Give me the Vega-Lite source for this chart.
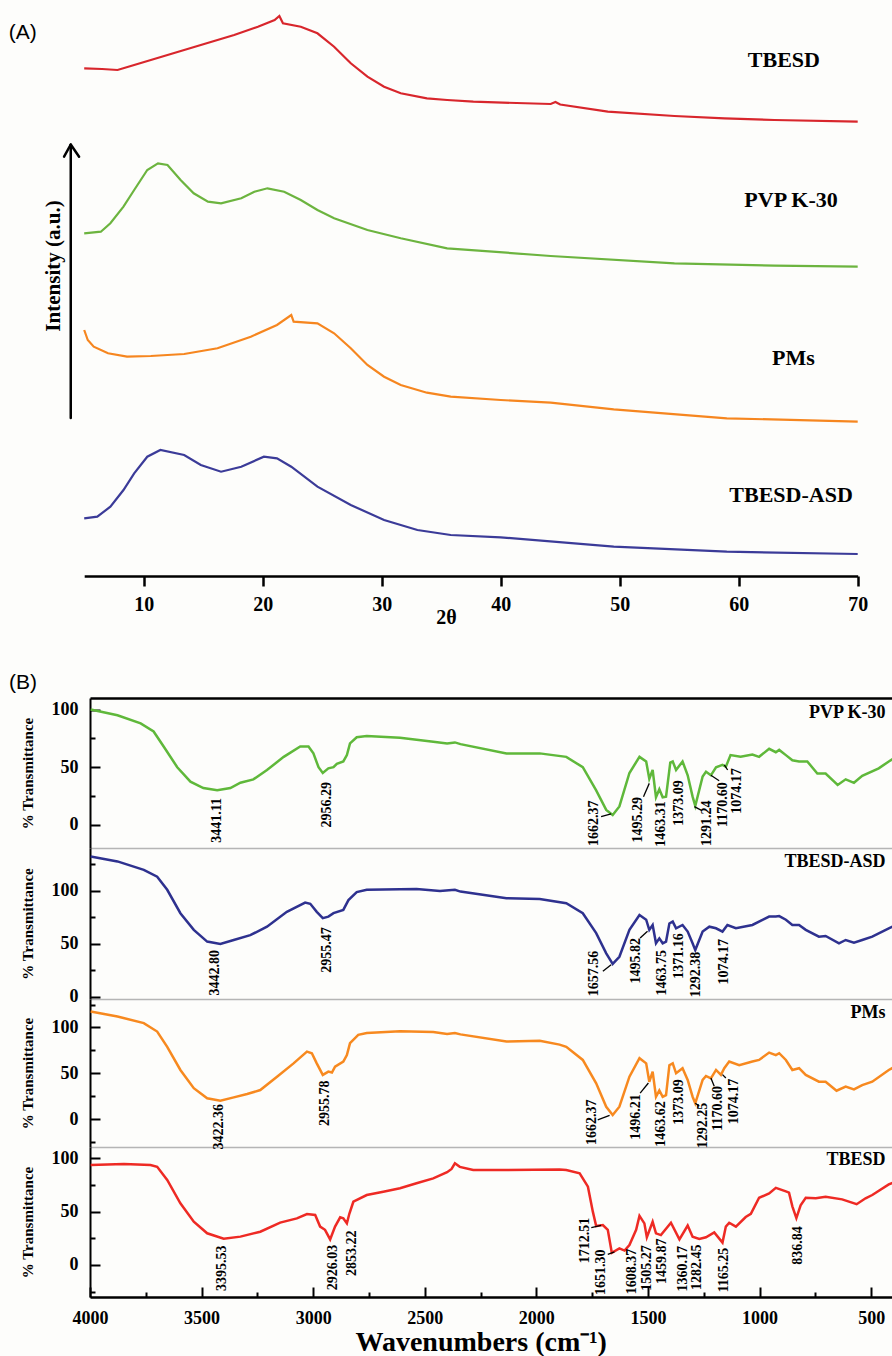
{
"$schema": "https://vega.github.io/schema/vega-lite/v6.json",
"background": "#fdfdfb",
"padding": {"left": 8, "top": 10, "right": 0, "bottom": 0},
"bounds": "flush",
"spacing": 122,
"config": {
  "view": {"stroke": null},
  "axis": {"labelFont": "Liberation Serif", "labelFontWeight": "bold", "labelColor": "black", "titleFont": "Liberation Serif", "titleFontWeight": "bold", "titleColor": "black", "domainColor": "black", "tickColor": "black", "grid": false, "labelOverlap": false},
  "text": {"font": "Liberation Serif", "fontWeight": "bold", "color": "black"}
},
"datasets": {
  "xrd": [
    {"s":"TBESD","x":5,"y":507.7},{"s":"TBESD","x":6.5,"y":507},{"s":"TBESD","x":7.8,"y":506},{"s":"TBESD","x":9.2,"y":511},{"s":"TBESD","x":12,"y":521},{"s":"TBESD","x":14.8,"y":531},{"s":"TBESD","x":17.6,"y":541},{"s":"TBESD","x":19.6,"y":549.3},{"s":"TBESD","x":21,"y":556},{"s":"TBESD","x":21.4,"y":560},{"s":"TBESD","x":21.7,"y":552.7},{"s":"TBESD","x":23.2,"y":549.3},{"s":"TBESD","x":24.6,"y":542.7},{"s":"TBESD","x":26,"y":529.3},{"s":"TBESD","x":27.4,"y":512.7},{"s":"TBESD","x":28.8,"y":499.3},{"s":"TBESD","x":30.2,"y":489.3},{"s":"TBESD","x":31.6,"y":482.7},{"s":"TBESD","x":33.8,"y":477.7},{"s":"TBESD","x":35.5,"y":476},{"s":"TBESD","x":37.7,"y":474.3},{"s":"TBESD","x":44.2,"y":472},{"s":"TBESD","x":44.6,"y":474},{"s":"TBESD","x":45,"y":471.5},{"s":"TBESD","x":49,"y":464.3},{"s":"TBESD","x":54.6,"y":460},{"s":"TBESD","x":58.8,"y":457.7},{"s":"TBESD","x":63,"y":456},{"s":"TBESD","x":70,"y":454.3},
    {"s":"PVP K-30","x":5,"y":342.7},{"s":"PVP K-30","x":6.4,"y":344.3},{"s":"PVP K-30","x":7.2,"y":352.7},{"s":"PVP K-30","x":8.3,"y":369.3},{"s":"PVP K-30","x":9.2,"y":386},{"s":"PVP K-30","x":10.3,"y":406},{"s":"PVP K-30","x":11.2,"y":412.7},{"s":"PVP K-30","x":12,"y":411},{"s":"PVP K-30","x":13.1,"y":396},{"s":"PVP K-30","x":14.2,"y":382.7},{"s":"PVP K-30","x":15.4,"y":374.3},{"s":"PVP K-30","x":16.5,"y":372.7},{"s":"PVP K-30","x":18.2,"y":377.7},{"s":"PVP K-30","x":19.3,"y":384.3},{"s":"PVP K-30","x":20.4,"y":387.7},{"s":"PVP K-30","x":21.8,"y":384.3},{"s":"PVP K-30","x":23.2,"y":376},{"s":"PVP K-30","x":24.6,"y":366},{"s":"PVP K-30","x":26,"y":357.7},{"s":"PVP K-30","x":28.8,"y":346},{"s":"PVP K-30","x":31.6,"y":337.7},{"s":"PVP K-30","x":35.5,"y":327.7},{"s":"PVP K-30","x":44.2,"y":320},{"s":"PVP K-30","x":54.6,"y":312.7},{"s":"PVP K-30","x":63,"y":310.3},{"s":"PVP K-30","x":70,"y":309.3},
    {"s":"PMs","x":5,"y":246},{"s":"PMs","x":5.3,"y":236},{"s":"PMs","x":5.8,"y":229.3},{"s":"PMs","x":7,"y":222.7},{"s":"PMs","x":8.6,"y":219.3},{"s":"PMs","x":10.6,"y":220},{"s":"PMs","x":13.4,"y":222},{"s":"PMs","x":16.2,"y":227.7},{"s":"PMs","x":19,"y":239.3},{"s":"PMs","x":21.2,"y":251},{"s":"PMs","x":22.4,"y":261},{"s":"PMs","x":22.6,"y":254.3},{"s":"PMs","x":24.6,"y":252.7},{"s":"PMs","x":26,"y":242.7},{"s":"PMs","x":27.4,"y":227.7},{"s":"PMs","x":28.8,"y":211},{"s":"PMs","x":30.2,"y":199.3},{"s":"PMs","x":31.6,"y":191},{"s":"PMs","x":33.8,"y":183.3},{"s":"PMs","x":35.8,"y":179.3},{"s":"PMs","x":40,"y":176},{"s":"PMs","x":44.2,"y":173.3},{"s":"PMs","x":49.5,"y":166.7},{"s":"PMs","x":59,"y":157.7},{"s":"PMs","x":70,"y":154.3},
    {"s":"TBESD-ASD","x":5,"y":57.7},{"s":"TBESD-ASD","x":6.1,"y":59.3},{"s":"TBESD-ASD","x":7.2,"y":69.3},{"s":"TBESD-ASD","x":8.3,"y":86},{"s":"TBESD-ASD","x":9.2,"y":102.7},{"s":"TBESD-ASD","x":10.3,"y":119.3},{"s":"TBESD-ASD","x":11.4,"y":126},{"s":"TBESD-ASD","x":13.4,"y":121},{"s":"TBESD-ASD","x":14.8,"y":111},{"s":"TBESD-ASD","x":16.5,"y":104.3},{"s":"TBESD-ASD","x":18.2,"y":109.3},{"s":"TBESD-ASD","x":20.1,"y":119.3},{"s":"TBESD-ASD","x":21.2,"y":117.7},{"s":"TBESD-ASD","x":22.4,"y":109.3},{"s":"TBESD-ASD","x":24.6,"y":89.3},{"s":"TBESD-ASD","x":27.4,"y":71},{"s":"TBESD-ASD","x":30.2,"y":56},{"s":"TBESD-ASD","x":33,"y":46},{"s":"TBESD-ASD","x":35.8,"y":41},{"s":"TBESD-ASD","x":40,"y":38.7},{"s":"TBESD-ASD","x":49.5,"y":29.3},{"s":"TBESD-ASD","x":59,"y":24.3},{"s":"TBESD-ASD","x":70,"y":22}
  ],
  "xrdLabels": [
    {"x":63.8,"y":516,"label":"TBESD"},{"x":64.4,"y":376,"label":"PVP K-30"},{"x":64.6,"y":218,"label":"PMs"},{"x":64.4,"y":81,"label":"TBESD-ASD"}
  ],
  "arrow": [
    {"x1":3.87,"y1":158,"x2":3.87,"y2":431},{"x1":3.31,"y1":419.3,"x2":3.87,"y2":431.5},{"x1":4.57,"y1":419.3,"x2":3.87,"y2":431.5}
  ],
  "pvp": [
    {"wn":3997,"t":100},{"wn":3877,"t":95},{"wn":3773,"t":88},{"wn":3715,"t":81},{"wn":3670,"t":68},{"wn":3609,"t":50},{"wn":3550,"t":37.5},{"wn":3492,"t":32},{"wn":3430,"t":30},{"wn":3371,"t":32},{"wn":3326,"t":36.6},{"wn":3268,"t":39.5},{"wn":3207,"t":47.6},{"wn":3132,"t":59},{"wn":3058,"t":68},{"wn":3021,"t":68},{"wn":2999,"t":62},{"wn":2976,"t":50},{"wn":2957,"t":45},{"wn":2932,"t":49},{"wn":2909,"t":50},{"wn":2894,"t":53},{"wn":2865,"t":55},{"wn":2849,"t":60.5},{"wn":2835,"t":70.7},{"wn":2805,"t":76},{"wn":2760,"t":77},{"wn":2611,"t":75.5},{"wn":2462,"t":72},{"wn":2400,"t":70.5},{"wn":2365,"t":71.5},{"wn":2340,"t":70},{"wn":2134,"t":62},{"wn":1985,"t":62},{"wn":1866,"t":59},{"wn":1792,"t":50},{"wn":1732,"t":30},{"wn":1687,"t":13},{"wn":1658,"t":8.6},{"wn":1628,"t":16},{"wn":1583,"t":45},{"wn":1538,"t":59},{"wn":1508,"t":55},{"wn":1494,"t":40},{"wn":1479,"t":47.6},{"wn":1464,"t":24},{"wn":1449,"t":31},{"wn":1434,"t":24},{"wn":1419,"t":24.5},{"wn":1400,"t":54},{"wn":1389,"t":55},{"wn":1374,"t":47.6},{"wn":1345,"t":55},{"wn":1322,"t":43},{"wn":1300,"t":24.5},{"wn":1288,"t":16.5},{"wn":1255,"t":42},{"wn":1240,"t":46},{"wn":1218,"t":43},{"wn":1195,"t":50},{"wn":1166,"t":52},{"wn":1151,"t":50.4},{"wn":1130,"t":60.5},{"wn":1085,"t":59},{"wn":1032,"t":61},{"wn":1002,"t":59},{"wn":957,"t":66},{"wn":927,"t":63},{"wn":912,"t":65},{"wn":882,"t":60.5},{"wn":853,"t":56},{"wn":823,"t":55},{"wn":786,"t":55},{"wn":741,"t":44.5},{"wn":704,"t":44.5},{"wn":650,"t":34.6},{"wn":614,"t":39.5},{"wn":577,"t":36.5},{"wn":540,"t":42.5},{"wn":466,"t":49},{"wn":421,"t":55},{"wn":404,"t":57}
  ],
  "pvpLab": [
    {"wn":3430,"t":3.9,"label":"3441.11"},{"wn":2939,"t":17.5,"label":"2956.29"},{"wn":1740,"t":1.5,"label":"1662.37"},{"wn":1544,"t":4.5,"label":"1495.29"},{"wn":1441,"t":0.7,"label":"1463.31"},{"wn":1363,"t":19,"label":"1373.09"},{"wn":1237,"t":1.5,"label":"1291.24"},{"wn":1162,"t":17.5,"label":"1170.60"},{"wn":1103,"t":29.3,"label":"1074.17"}
  ],
  "pvpLead": [
    {"wn":1710,"t":7.2,"wn2":1665,"t2":9.5},{"wn":1520,"t":24.5,"wn2":1494,"t2":36},{"wn":1292,"t":15.8,"wn2":1258,"t2":12.4},{"wn":1218,"t":43,"wn2":1181,"t2":38.3},{"wn":1158,"t":52,"wn2":1143,"t2":47.6}
  ],
  "asd": [
    {"wn":3997,"t":132},{"wn":3877,"t":127.4},{"wn":3759,"t":119.5},{"wn":3699,"t":113},{"wn":3654,"t":100.7},{"wn":3595,"t":78.7},{"wn":3535,"t":63},{"wn":3475,"t":52},{"wn":3416,"t":49.7},{"wn":3356,"t":53.5},{"wn":3282,"t":58},{"wn":3207,"t":66},{"wn":3118,"t":80},{"wn":3036,"t":88.7},{"wn":3013,"t":87.5},{"wn":2984,"t":80},{"wn":2957,"t":74},{"wn":2932,"t":75.5},{"wn":2909,"t":78.7},{"wn":2865,"t":81.8},{"wn":2842,"t":91},{"wn":2805,"t":98.5},{"wn":2760,"t":100.7},{"wn":2537,"t":101.5},{"wn":2432,"t":99.5},{"wn":2365,"t":100.7},{"wn":2340,"t":99},{"wn":2134,"t":92.8},{"wn":1985,"t":92},{"wn":1866,"t":88},{"wn":1792,"t":78.7},{"wn":1732,"t":60},{"wn":1687,"t":41},{"wn":1658,"t":31},{"wn":1628,"t":37.7},{"wn":1583,"t":63},{"wn":1538,"t":77},{"wn":1508,"t":72.6},{"wn":1494,"t":63},{"wn":1479,"t":67.6},{"wn":1464,"t":50.4},{"wn":1449,"t":55},{"wn":1434,"t":50.4},{"wn":1419,"t":52},{"wn":1404,"t":69},{"wn":1389,"t":70.8},{"wn":1374,"t":64.5},{"wn":1345,"t":67.6},{"wn":1322,"t":61.4},{"wn":1300,"t":50.4},{"wn":1288,"t":44},{"wn":1255,"t":61.4},{"wn":1225,"t":66},{"wn":1195,"t":64.5},{"wn":1166,"t":61.4},{"wn":1144,"t":67.6},{"wn":1106,"t":64.5},{"wn":1032,"t":67.6},{"wn":957,"t":75.5},{"wn":927,"t":75.5},{"wn":912,"t":76},{"wn":882,"t":72.6},{"wn":853,"t":67.6},{"wn":823,"t":67.6},{"wn":793,"t":63},{"wn":734,"t":56.6},{"wn":704,"t":57.3},{"wn":644,"t":50.4},{"wn":614,"t":53.5},{"wn":577,"t":51},{"wn":540,"t":53.5},{"wn":495,"t":56.6},{"wn":421,"t":64.5},{"wn":404,"t":66}
  ],
  "asdLab": [
    {"wn":3438,"t":22.8,"label":"3442.80"},{"wn":2939,"t":44,"label":"2955.47"},{"wn":1740,"t":22,"label":"1657.56"},{"wn":1553,"t":34,"label":"1495.82"},{"wn":1439,"t":22.6,"label":"1463.75"},{"wn":1363,"t":38.5,"label":"1371.16"},{"wn":1285,"t":21,"label":"1292.38"},{"wn":1158,"t":33,"label":"1074.17"}
  ],
  "asdLead": [
    {"wn":1702,"t":24,"wn2":1665,"t2":30.2},{"wn":1535,"t":55.4,"wn2":1502,"t2":61.7}
  ],
  "pms": [
    {"wn":3997,"t":117.5},{"wn":3877,"t":112},{"wn":3759,"t":104.8},{"wn":3699,"t":95.6},{"wn":3654,"t":79},{"wn":3595,"t":53.8},{"wn":3535,"t":34},{"wn":3475,"t":23},{"wn":3416,"t":20.3},{"wn":3356,"t":24},{"wn":3296,"t":27.6},{"wn":3237,"t":32},{"wn":3162,"t":46.5},{"wn":3088,"t":61},{"wn":3028,"t":73.8},{"wn":3006,"t":72},{"wn":2984,"t":61},{"wn":2957,"t":48.4},{"wn":2932,"t":52},{"wn":2916,"t":51},{"wn":2902,"t":57.4},{"wn":2865,"t":63},{"wn":2849,"t":70},{"wn":2835,"t":83},{"wn":2798,"t":92},{"wn":2760,"t":94},{"wn":2611,"t":96},{"wn":2462,"t":95},{"wn":2400,"t":93},{"wn":2365,"t":94},{"wn":2340,"t":92.5},{"wn":2134,"t":84.7},{"wn":1985,"t":85.5},{"wn":1896,"t":81.4},{"wn":1866,"t":79},{"wn":1792,"t":64.7},{"wn":1732,"t":39.3},{"wn":1687,"t":13.8},{"wn":1658,"t":4.7},{"wn":1628,"t":13.8},{"wn":1583,"t":46.5},{"wn":1538,"t":66.6},{"wn":1508,"t":61},{"wn":1494,"t":41},{"wn":1479,"t":52},{"wn":1464,"t":24.7},{"wn":1449,"t":31.6},{"wn":1434,"t":24.7},{"wn":1419,"t":26.5},{"wn":1404,"t":59},{"wn":1389,"t":61},{"wn":1374,"t":50.2},{"wn":1345,"t":55.7},{"wn":1322,"t":42.9},{"wn":1300,"t":24.7},{"wn":1288,"t":17.5},{"wn":1255,"t":43},{"wn":1240,"t":47.3},{"wn":1218,"t":44.6},{"wn":1195,"t":53.8},{"wn":1173,"t":48.4},{"wn":1158,"t":55.7},{"wn":1136,"t":63},{"wn":1091,"t":59},{"wn":1032,"t":63},{"wn":1002,"t":64.7},{"wn":957,"t":72.7},{"wn":927,"t":70},{"wn":912,"t":72},{"wn":882,"t":64.7},{"wn":853,"t":53.8},{"wn":823,"t":55.7},{"wn":793,"t":48.4},{"wn":734,"t":41},{"wn":704,"t":41},{"wn":655,"t":31.2},{"wn":614,"t":35.7},{"wn":577,"t":32.7},{"wn":540,"t":37.4},{"wn":495,"t":41},{"wn":421,"t":53.8},{"wn":404,"t":56}
  ],
  "pmsLab": [
    {"wn":3423,"t":-8,"label":"3422.36"},{"wn":2946,"t":17.5,"label":"2955.78"},{"wn":1750,"t":-3,"label":"1662.37"},{"wn":1554,"t":2.5,"label":"1496.21"},{"wn":1441,"t":-5,"label":"1463.62"},{"wn":1362,"t":19,"label":"1373.09"},{"wn":1255,"t":-6.5,"label":"1292.25"},{"wn":1188,"t":12,"label":"1170.60"},{"wn":1116,"t":19.5,"label":"1074.17"}
  ],
  "pmsLead": [
    {"wn":1725,"t":-0.4,"wn2":1672,"t2":4.4},{"wn":1535,"t":28.7,"wn2":1498,"t2":39.6},{"wn":1270,"t":14.5,"wn2":1288,"t2":17.5},{"wn":1203,"t":36,"wn2":1218,"t2":45},{"wn":1151,"t":45,"wn2":1166,"t2":48.7}
  ],
  "tb": [
    {"wn":3997,"t":93.7},{"wn":3848,"t":94.6},{"wn":3729,"t":93.7},{"wn":3699,"t":92},{"wn":3654,"t":79.7},{"wn":3595,"t":57.8},{"wn":3535,"t":40.6},{"wn":3475,"t":29.7},{"wn":3401,"t":24.7},{"wn":3326,"t":26.6},{"wn":3237,"t":31.2},{"wn":3148,"t":39.7},{"wn":3073,"t":43.7},{"wn":3028,"t":47.8},{"wn":2991,"t":46.9},{"wn":2969,"t":36},{"wn":2947,"t":33},{"wn":2924,"t":24},{"wn":2902,"t":36},{"wn":2879,"t":44.7},{"wn":2865,"t":43.8},{"wn":2849,"t":39},{"wn":2838,"t":48},{"wn":2820,"t":59.3},{"wn":2760,"t":65.6},{"wn":2686,"t":68.7},{"wn":2611,"t":71.9},{"wn":2537,"t":76.6},{"wn":2462,"t":81.2},{"wn":2400,"t":87},{"wn":2380,"t":90},{"wn":2365,"t":95.3},{"wn":2343,"t":92},{"wn":2283,"t":89},{"wn":2134,"t":89},{"wn":1896,"t":89.5},{"wn":1866,"t":89},{"wn":1806,"t":86},{"wn":1769,"t":73.4},{"wn":1747,"t":50},{"wn":1732,"t":36.5},{"wn":1702,"t":37.5},{"wn":1680,"t":33},{"wn":1662,"t":11.5},{"wn":1628,"t":15.6},{"wn":1605,"t":13.5},{"wn":1583,"t":18.7},{"wn":1553,"t":33},{"wn":1538,"t":46},{"wn":1516,"t":39},{"wn":1505,"t":26},{"wn":1479,"t":40.5},{"wn":1464,"t":29.7},{"wn":1442,"t":28},{"wn":1397,"t":39.6},{"wn":1359,"t":24},{"wn":1322,"t":37},{"wn":1300,"t":26.5},{"wn":1270,"t":24.5},{"wn":1240,"t":26},{"wn":1203,"t":30.5},{"wn":1166,"t":21},{"wn":1151,"t":36},{"wn":1136,"t":39.6},{"wn":1106,"t":36},{"wn":1062,"t":45},{"wn":1039,"t":48},{"wn":1002,"t":63},{"wn":957,"t":67},{"wn":927,"t":72.3},{"wn":882,"t":69},{"wn":868,"t":67.8},{"wn":853,"t":55},{"wn":835,"t":44},{"wn":816,"t":56},{"wn":793,"t":63},{"wn":748,"t":62.5},{"wn":704,"t":64},{"wn":630,"t":61.5},{"wn":565,"t":57},{"wn":525,"t":62.5},{"wn":495,"t":65.6},{"wn":421,"t":75.5},{"wn":404,"t":77}
  ],
  "tbLab": [
    {"wn":3408,"t":-3.1,"label":"3395.53"},{"wn":2909,"t":-2.3,"label":"2926.03"},{"wn":2824,"t":11,"label":"2853.22"},{"wn":1780,"t":23,"label":"1712.51"},{"wn":1710,"t":-6.7,"label":"1651.30"},{"wn":1571,"t":-6,"label":"1608.37"},{"wn":1506,"t":-2.8,"label":"1505.27"},{"wn":1439,"t":3.5,"label":"1459.87"},{"wn":1345,"t":-3.5,"label":"1360.17"},{"wn":1280,"t":-2,"label":"1282.45"},{"wn":1158,"t":-4.7,"label":"1165.25"},{"wn":826,"t":18.2,"label":"836.84"}
  ],
  "tbLead": [
    {"wn":1754,"t":35,"wn2":1710,"t2":37.2},{"wn":1680,"t":10,"wn2":1650,"t2":12.2}
  ]
},
"vconcat": [
  {
    "width": 803, "height": 566,
    "layer": [
      {
        "data": {"name": "xrd"},
        "mark": {"type": "line", "strokeWidth": 2.2},
        "encoding": {
          "x": {"field": "x", "type": "quantitative", "scale": {"domain": [5, 70], "range": [-5.8, 767.7], "nice": false, "zero": false},
                "axis": {"values": [10,20,30,40,50,60,70], "format": "d", "tickSize": 10, "tickWidth": 2.5, "domainWidth": 2.5, "labelFontSize": 20, "labelPadding": 8, "labelFlush": false, "title": "2θ", "titleFontSize": 20, "titleX": 356, "titleY": 41, "titleBaseline": "middle", "titleAlign": "center"}},
          "y": {"field": "y", "type": "quantitative", "scale": {"domain": [0, 566], "nice": false, "zero": false}, "axis": null},
          "color": {"field": "s", "type": "nominal", "legend": null,
                    "scale": {"domain": ["TBESD", "PVP K-30", "PMs", "TBESD-ASD"], "range": ["#d8262c", "#6cb43f", "#f6861f", "#3b3b98"]}}
        }
      },
      {
        "data": {"name": "xrdLabels"},
        "mark": {"type": "text", "fontSize": 22, "align": "center", "baseline": "middle"},
        "encoding": {
          "x": {"field": "x", "type": "quantitative"},
          "y": {"field": "y", "type": "quantitative"},
          "text": {"field": "label"}
        }
      },
      {
        "data": {"name": "arrow"},
        "mark": {"type": "rule", "strokeWidth": 2.5, "color": "black", "strokeCap": "round"},
        "encoding": {
          "x": {"field": "x1", "type": "quantitative"},
          "y": {"field": "y1", "type": "quantitative"},
          "x2": {"field": "x2"},
          "y2": {"field": "y2"}
        }
      },
      {
        "data": {"values": [{"x": 2.44, "y": 310, "label": "Intensity (a.u.)"}]},
        "mark": {"type": "text", "fontSize": 21, "angle": 270, "align": "center", "baseline": "middle"},
        "encoding": {
          "x": {"field": "x", "type": "quantitative"},
          "y": {"field": "y", "type": "quantitative"},
          "text": {"field": "label"}
        }
      },
      {
        "data": {"values": [{"x": -1.345, "y": 543, "label": "(A)"}]},
        "mark": {"type": "text", "fontSize": 21, "font": "Liberation Sans", "fontWeight": "normal", "align": "left", "baseline": "middle"},
        "encoding": {
          "x": {"field": "x", "type": "quantitative"},
          "y": {"field": "y", "type": "quantitative"},
          "text": {"field": "label"}
        }
      }
    ]
  },
  {
    "spacing": 0,
    "bounds": "flush",
    "vconcat": [
      {
        "width": 802.7, "height": 150,
        "layer": [
          {
            "data": {"name": "pvp"},
            "mark": {"type": "line", "color": "#5fb83a", "strokeWidth": 2.5},
            "encoding": {
              "x": {"field": "wn", "type": "quantitative", "scale": {"domain": [4000, 403.4], "nice": false, "zero": false}, "axis": {"orient": "top", "labels": false, "ticks": false, "domainWidth": 2.5, "title": null}},
              "y": {"field": "t", "type": "quantitative", "scale": {"domain": [-20, 110], "nice": false, "zero": false},
                    "axis": {"orient": "left", "values": [0, 50, 100], "tickSize": -10, "tickWidth": 2, "domainWidth": 2, "labelFontSize": 18, "labelPadding": 22, "title": "% Transmittance", "titleFontSize": 15, "titleX": -63, "titleY": 75, "titleAngle": 270, "titleAlign": "center", "titleBaseline": "middle"}}
            }
          },
          {
            "data": {"name": "pvpLab"},
            "mark": {"type": "text", "angle": 270, "fontSize": 14, "align": "center", "baseline": "middle"},
            "encoding": {
              "x": {"field": "wn", "type": "quantitative", "axis": {"orient": "bottom", "labels": false, "ticks": false, "domainColor": "#b5b5b5", "domainWidth": 1.5, "title": null}},
              "y": {"field": "t", "type": "quantitative", "axis": {"orient": "left", "values": [25, 75], "tickSize": -5, "tickWidth": 2, "labels": false, "domain": false, "title": null}},
              "text": {"field": "label"}
            }
          },
          {
            "data": {"name": "pvpLead"},
            "mark": {"type": "rule", "strokeWidth": 1.3, "color": "black"},
            "encoding": {
              "x": {"field": "wn", "type": "quantitative", "axis": null},
              "x2": {"field": "wn2"},
              "y": {"field": "t", "type": "quantitative", "axis": null},
              "y2": {"field": "t2"}
            }
          },
          {
            "data": {"values": [{"wn": 436, "t": 96.9, "label": "PVP K-30"}]},
            "mark": {"type": "text", "fontSize": 18, "align": "right", "baseline": "middle"},
            "encoding": {
              "x": {"field": "wn", "type": "quantitative", "axis": null},
              "y": {"field": "t", "type": "quantitative", "axis": null},
              "text": {"field": "label"}
            }
          },
          {
            "data": {"values": [{"wn": 4363, "t": 122.8, "label": "(B)"}]},
            "mark": {"type": "text", "fontSize": 21, "font": "Liberation Sans", "fontWeight": "normal", "align": "left", "baseline": "middle"},
            "encoding": {
              "x": {"field": "wn", "type": "quantitative", "axis": null},
              "y": {"field": "t", "type": "quantitative", "axis": null},
              "text": {"field": "label"}
            }
          }
        ],
        "resolve": {"axis": {"x": "independent", "y": "independent"}}
      },
      {
        "width": 802.7, "height": 151,
        "layer": [
          {
            "data": {"name": "asd"},
            "mark": {"type": "line", "color": "#2e318f", "strokeWidth": 2.5},
            "encoding": {
              "x": {"field": "wn", "type": "quantitative", "scale": {"domain": [4000, 403.4], "nice": false, "zero": false}, "axis": {"orient": "bottom", "labels": false, "ticks": false, "domainColor": "#b5b5b5", "domainWidth": 1.5, "title": null}},
              "y": {"field": "t", "type": "quantitative", "scale": {"domain": [-2, 140], "nice": false, "zero": false},
                    "axis": {"orient": "left", "values": [0, 50, 100], "tickSize": -10, "tickWidth": 2, "domainWidth": 2, "labelFontSize": 18, "labelPadding": 22, "title": "% Transmittance", "titleFontSize": 15, "titleX": -63, "titleY": 75.5, "titleAngle": 270, "titleAlign": "center", "titleBaseline": "middle"}}
            }
          },
          {
            "data": {"name": "asdLab"},
            "mark": {"type": "text", "angle": 270, "fontSize": 14, "align": "center", "baseline": "middle"},
            "encoding": {
              "x": {"field": "wn", "type": "quantitative", "axis": null},
              "y": {"field": "t", "type": "quantitative", "axis": {"orient": "left", "values": [25, 75, 125], "tickSize": -5, "tickWidth": 2, "labels": false, "domain": false, "title": null}},
              "text": {"field": "label"}
            }
          },
          {
            "data": {"name": "asdLead"},
            "mark": {"type": "rule", "strokeWidth": 1.3, "color": "black"},
            "encoding": {
              "x": {"field": "wn", "type": "quantitative", "axis": null},
              "x2": {"field": "wn2"},
              "y": {"field": "t", "type": "quantitative", "axis": null},
              "y2": {"field": "t2"}
            }
          },
          {
            "data": {"values": [{"wn": 436, "t": 127, "label": "TBESD-ASD"}]},
            "mark": {"type": "text", "fontSize": 18, "align": "right", "baseline": "middle"},
            "encoding": {
              "x": {"field": "wn", "type": "quantitative", "axis": null},
              "y": {"field": "t", "type": "quantitative", "axis": null},
              "text": {"field": "label"}
            }
          }
        ],
        "resolve": {"axis": {"x": "independent", "y": "independent"}}
      },
      {
        "width": 802.7, "height": 148,
        "layer": [
          {
            "data": {"name": "pms"},
            "mark": {"type": "line", "color": "#f7891f", "strokeWidth": 2.5},
            "encoding": {
              "x": {"field": "wn", "type": "quantitative", "scale": {"domain": [4000, 403.4], "nice": false, "zero": false}, "axis": {"orient": "bottom", "labels": false, "ticks": false, "domainColor": "#b5b5b5", "domainWidth": 1.5, "title": null}},
              "y": {"field": "t", "type": "quantitative", "scale": {"domain": [-30, 131], "nice": false, "zero": false},
                    "axis": {"orient": "left", "values": [0, 50, 100], "tickSize": -10, "tickWidth": 2, "domainWidth": 2, "labelFontSize": 18, "labelPadding": 22, "title": "% Transmittance", "titleFontSize": 15, "titleX": -63, "titleY": 74, "titleAngle": 270, "titleAlign": "center", "titleBaseline": "middle"}}
            }
          },
          {
            "data": {"name": "pmsLab"},
            "mark": {"type": "text", "angle": 270, "fontSize": 14, "align": "center", "baseline": "middle"},
            "encoding": {
              "x": {"field": "wn", "type": "quantitative", "axis": null},
              "y": {"field": "t", "type": "quantitative", "axis": {"orient": "left", "values": [-25, 25, 75, 125], "tickSize": -5, "tickWidth": 2, "labels": false, "domain": false, "title": null}},
              "text": {"field": "label"}
            }
          },
          {
            "data": {"name": "pmsLead"},
            "mark": {"type": "rule", "strokeWidth": 1.3, "color": "black"},
            "encoding": {
              "x": {"field": "wn", "type": "quantitative", "axis": null},
              "x2": {"field": "wn2"},
              "y": {"field": "t", "type": "quantitative", "axis": null},
              "y2": {"field": "t2"}
            }
          },
          {
            "data": {"values": [{"wn": 436, "t": 116, "label": "PMs"}]},
            "mark": {"type": "text", "fontSize": 18, "align": "right", "baseline": "middle"},
            "encoding": {
              "x": {"field": "wn", "type": "quantitative", "axis": null},
              "y": {"field": "t", "type": "quantitative", "axis": null},
              "text": {"field": "label"}
            }
          }
        ],
        "resolve": {"axis": {"x": "independent", "y": "independent"}}
      },
      {
        "width": 802.7, "height": 150,
        "layer": [
          {
            "data": {"name": "tb"},
            "mark": {"type": "line", "color": "#ee2a24", "strokeWidth": 2.5},
            "encoding": {
              "x": {"field": "wn", "type": "quantitative", "scale": {"domain": [4000, 403.4], "nice": false, "zero": false},
                    "axis": {"orient": "bottom", "values": [4000,3500,3000,2500,2000,1500,1000,500], "format": "d", "tickSize": -10, "tickWidth": 2, "domainWidth": 2.5, "labelFontSize": 18, "labelPadding": 22, "labelFlush": false, "title": "Wavenumbers (cm⁻¹)", "titleFontSize": 28, "titleX": 390.7, "titleY": 45, "titleBaseline": "middle", "titleAlign": "center"}},
              "y": {"field": "t", "type": "quantitative", "scale": {"domain": [-30, 110.6], "nice": false, "zero": false},
                    "axis": {"orient": "left", "values": [0, 50, 100], "tickSize": -10, "tickWidth": 2, "domainWidth": 2, "labelFontSize": 18, "labelPadding": 22, "title": "% Transmittance", "titleFontSize": 15, "titleX": -63, "titleY": 75, "titleAngle": 270, "titleAlign": "center", "titleBaseline": "middle"}}
            }
          },
          {
            "data": {"name": "tbLab"},
            "mark": {"type": "text", "angle": 270, "fontSize": 14, "align": "center", "baseline": "middle"},
            "encoding": {
              "x": {"field": "wn", "type": "quantitative", "axis": {"orient": "bottom", "values": [3750,3250,2750,2250,1750,1250,750], "tickSize": -5, "tickWidth": 2, "labels": false, "domain": false, "title": null}},
              "y": {"field": "t", "type": "quantitative", "axis": {"orient": "left", "values": [-25, 25, 75], "tickSize": -5, "tickWidth": 2, "labels": false, "domain": false, "title": null}},
              "text": {"field": "label"}
            }
          },
          {
            "data": {"name": "tbLead"},
            "mark": {"type": "rule", "strokeWidth": 1.3, "color": "black"},
            "encoding": {
              "x": {"field": "wn", "type": "quantitative", "axis": null},
              "x2": {"field": "wn2"},
              "y": {"field": "t", "type": "quantitative", "axis": null},
              "y2": {"field": "t2"}
            }
          },
          {
            "data": {"values": [{"wn": 436, "t": 98.4, "label": "TBESD"}]},
            "mark": {"type": "text", "fontSize": 18, "align": "right", "baseline": "middle"},
            "encoding": {
              "x": {"field": "wn", "type": "quantitative", "axis": null},
              "y": {"field": "t", "type": "quantitative", "axis": null},
              "text": {"field": "label"}
            }
          }
        ],
        "resolve": {"axis": {"x": "independent", "y": "independent"}}
      }
    ]
  }
]
}
